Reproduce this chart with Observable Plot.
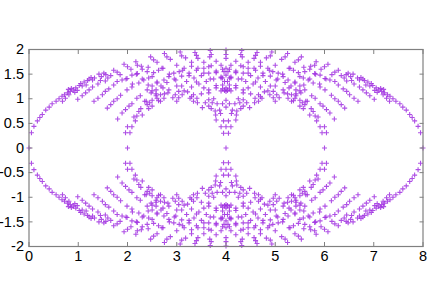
<!DOCTYPE html>
<html><head><meta charset="utf-8">
<script src="https://cdn.jsdelivr.net/npm/d3@7"></script>
<script src="https://cdn.jsdelivr.net/npm/@observablehq/plot@0.6"></script>
<style>html,body{margin:0;padding:0;background:#fff}svg{display:block}</style>
</head><body><div id="chart"></div>
<script>
const rimArc=[[0,0],[.05,.31],[.10,.44],[.17,.55],[.22,.62],[.27,.68],[.34,.77],[.41,.83],[.47,.90],[.55,.95],[.61,1],[.67,1.05],[.72,1.08],[.78,1.12],[.80,1.19],[.84,1.15],[.86,1.21],[.90,1.18],[.93,1.13],[.95,1.22],[.98,1.17],[1.02,1.27],[1.05,1.31],[1.08,1.26],[1.12,1.34],[1.16,1.28],[1.19,1.37],[1.22,1.40],[1.26,1.43],[1.29,1.38],[1.33,1.42],[1.42,1.50],[1.47,1.45],[1.52,1.52],[1.56,1.49],[1.66,1.47],[1.72,1.58],[1.79,1.54],[1.93,1.70],[2,1.65],[2.17,1.75],[2.2,1.68],[2.47,1.85],[2.53,1.79],[2.75,1.92],[2.8,1.85],[3.07,1.95],[3.1,1.87],[3.37,1.94],[3.4,1.88],[3.68,1.98],[3.7,1.9]];
const risingB=[[.68,.95],[.74,1.01],[.81,1.08],[.99,.99],[1.08,1.06],[1.15,1.12],[1.22,1.18],[1.29,1.24],[1.4,1.3],[1.45,1.37],[1.55,1.36],[1.6,1.42]];
const risingC=[[1.32,.95],[1.4,1.01],[1.49,1.08],[1.55,1.15],[1.62,1.2],[1.72,1.28],[1.79,1.35],[1.89,1.38],[1.99,1.41],[2.09,1.48],[2.2,1.51],[2.3,1.6],[2.42,1.64]];
const risingD=[[1.59,.81],[1.66,.88],[1.72,.95],[1.79,1],[1.86,1.07],[1.99,1.18],[2.09,1.24],[2.23,1.32],[2.33,1.38],[2.43,1.42],[2.53,1.53],[2.63,1.58],[2.7,1.62]];
const risingE=[[1.8,.59],[1.89,.71],[1.96,.78],[2.03,.85],[2.09,.9],[2.19,1.01],[2.26,1.06],[2.4,1.18],[2.5,1.26],[2.6,1.32],[2.74,1.38],[2.84,1.45],[2.94,1.52],[3.05,1.55],[3.15,1.62],[3.3,1.66]];
const risingF=[[2,0],[1.96,.31],[2.05,.31],[2,.43],[2.09,.43],[2.16,.55],[2.13,.63],[2.19,.65],[2.23,.74],[2.3,.67],[2.27,.8],[2.35,.95],[2.48,1.12],[2.58,1.18],[2.68,1.26],[2.8,1.33],[2.95,1.4],[3.1,1.46],[3.25,1.52],[3.4,1.58],[3.55,1.62],[3.7,1.67]];
const risingG=[[2.4,.88],[2.45,.92],[2.38,.95],[2.5,.85],[2.43,.8],[2.5,.97],[2.6,1.01],[2.67,.95],[2.74,1.01],[2.67,1.08],[2.58,1.1],[2.75,1.1],[2.84,1.18],[3,1.26],[3.2,1.35],[3.35,1.42],[3.5,1.47],[3.65,1.52],[3.8,1.56]];
const risingH=[[2.97,1.08],[3.04,1.02],[3.11,1.08],[3.04,1.15],[3.15,1.16],[3.3,1.24],[3.45,1.3],[3.6,1.35],[3.75,1.4],[3.9,1.44]];
const risingI=[[3.27,1.01],[3.34,.95],[3.41,1.01],[3.34,1.08],[3.5,1.1],[3.65,1.18],[3.8,1.22],[3.93,1.28]];
const fallingB=[[1.85,1.49],[1.97,1.4],[2.1,1.3]];
const fallingC=[[2.07,1.6],[2.18,1.5],[2.3,1.4],[2.42,1.28],[2.5,1.16],[2.58,1.06],[2.63,.96]];
const fallingD=[[2.28,1.66],[2.4,1.55],[2.5,1.45],[2.6,1.34],[2.72,1.22],[2.82,1.12],[2.92,1.02],[3,.95]];
const fallingE=[[2.6,1.74],[2.72,1.62],[2.85,1.5],[2.98,1.38],[3.1,1.26],[3.22,1.14],[3.3,1.04],[3.42,.92],[3.52,.82]];
const fallingF=[[2.87,1.8],[3,1.68],[3.12,1.58],[3.25,1.47],[3.4,1.34],[3.55,1.22],[3.65,1.12],[3.75,1],[3.82,.9]];
const fallingG=[[3.18,1.83],[3.3,1.74],[3.43,1.62],[3.55,1.52],[3.68,1.4],[3.8,1.27],[3.9,1.16]];
const fallingH=[[3.43,1.82],[3.55,1.74],[3.65,1.65],[3.8,1.53],[3.9,1.42]];
const fallingI=[[3.67,1.85],[3.8,1.76],[3.9,1.68]];
const innerRing=[[3.58,.92],[3.65,.98],[3.72,.92],[3.65,.85],[3.7,.8],[3.78,.75],[3.8,.57],[3.89,.7],[3.79,.67],[3.87,.77]];
const centreColumn=[[4,0],[3.95,.3],[3.9,.43],[4,.43],[3.95,.55],[3.93,.9],[4,.83],[4,.97],[3.93,1.2],[3.97,1.17],[4,1.15],[4,1.22],[3.93,1.42],[3.97,1.35],[4,1.48],[3.93,1.6],[4,1.62],[3.96,1.55],[4,1.99],[4,1.9],[4,1.82]];

const upperLeft=[rimArc,risingB,risingC,risingD,risingE,risingF,risingG,risingH,risingI,fallingB,fallingC,fallingD,fallingE,fallingF,fallingG,fallingH,fallingI,innerRing,centreColumn].flat();
// The picture is symmetric about x = 4 and y = 0, so the other quadrants reflect the read points.
const reflected=upperLeft.flatMap(([x,y])=>[[x,y],[8-x,y],[x,-y],[8-x,-y]]);
const points=[...new Map(reflected.map(p=>[p.join(),p])).values()];
const xTicks=[0,1,2,3,4,5,6,7,8];
const yTicks=[-2,-1.5,-1,-.5,0,.5,1,1.5,2];
const font="'Liberation Sans',Arial,sans-serif";
const chart=Plot.plot({
  width:436,height:308,marginLeft:28.5,marginRight:13.5,marginTop:49,marginBottom:62,
  style:{fontFamily:font,fontSize:"14px",color:"#000",background:"#fff"},
  x:{domain:[0,8],ticks:xTicks},y:{domain:[-2,2],ticks:yTicks},
  marks:[
    Plot.dot(points,{x:d=>d[0],y:d=>d[1],symbol:"plus",r:1.75,stroke:"#a030e0",strokeWidth:1.1,strokeOpacity:.85,clip:false}),
    Plot.axisX({anchor:"bottom",ticks:xTicks,tickSize:0,tickPadding:4,label:null,tickFormat:d=>String(d),fontSize:14.5,fill:"#000"}),
    Plot.axisY({anchor:"left",ticks:yTicks,tickSize:0,tickPadding:5,label:null,tickFormat:d=>String(d),fontSize:14.5,fill:"#000"}),
    Plot.axisX({anchor:"bottom",ticks:xTicks,tickSize:-4,text:null,label:null,stroke:"#808080"}),
    Plot.axisX({anchor:"top",ticks:xTicks,tickSize:-4,text:null,label:null,stroke:"#808080"}),
    Plot.axisY({anchor:"left",ticks:yTicks,tickSize:-4,text:null,label:null,stroke:"#808080"}),
    Plot.axisY({anchor:"right",ticks:yTicks,tickSize:-4,text:null,label:null,stroke:"#808080"}),
    Plot.frame({stroke:"#808080",strokeWidth:1.2})
  ]
});
document.getElementById("chart").append(chart);
</script></body></html>
